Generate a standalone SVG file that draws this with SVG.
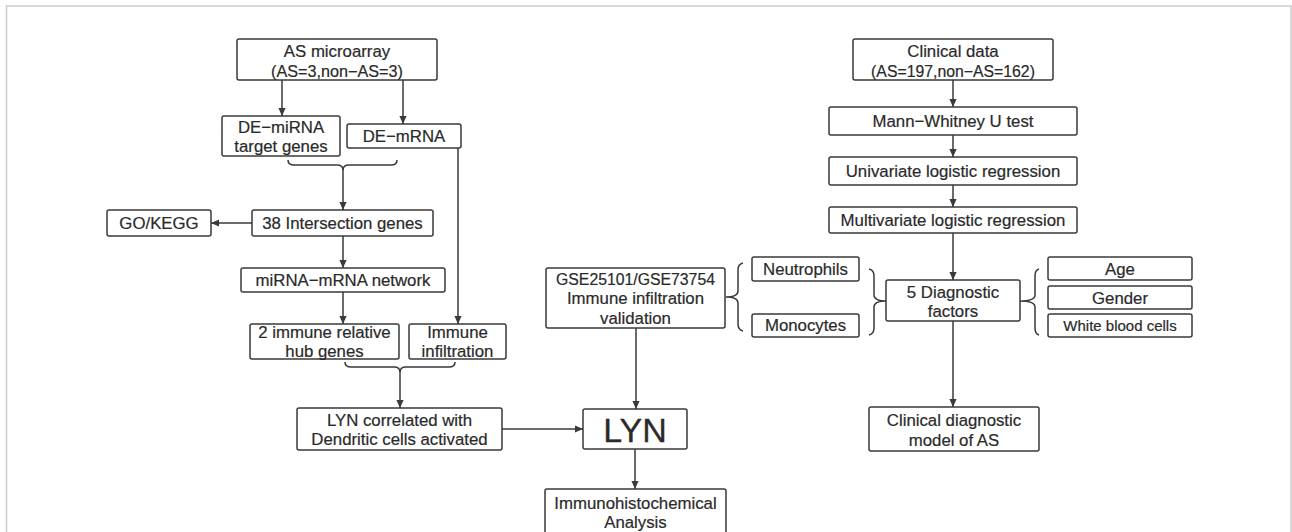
<svg xmlns="http://www.w3.org/2000/svg" width="1292" height="532" viewBox="0 0 1292 532">
<style>
.b{fill:#fff;stroke:#3a3a3a;stroke-width:1.5}
.t{font-family:"Liberation Sans",Arial,sans-serif;font-size:16.8px;fill:#2a2a2a;stroke:#2a2a2a;stroke-width:0.2;text-anchor:middle}
.n{font-size:15.8px}
.m{font-size:16.2px}
.s{font-size:15px}
.big{font-size:34px;stroke-width:0.3}
.c{fill:none;stroke:#3a3a3a;stroke-width:1.5}
</style>
<defs>
<marker id="a" viewBox="0 0 10 10" refX="10" refY="5" markerWidth="8" markerHeight="8" markerUnits="userSpaceOnUse" orient="auto">
<path d="M0,0.5 L10,5 L0,9.5 z" fill="#3a3a3a"/>
</marker>
</defs>
<rect x="6.5" y="6" width="1284.5" height="600" fill="none" stroke="#cccccc" stroke-width="1.5"/>
<g id="connectors">
<path class="c" d="M282,80 V116" marker-end="url(#a)"/>
<path class="c" d="M403,80 V124" marker-end="url(#a)"/>
<path class="c" d="M288,160 Q288,165 294,165 L337,165 Q343,165 343,170 Q343,165 349,165 L391,165 Q397,165 397,160"/>
<path class="c" d="M343,169 V210" marker-end="url(#a)"/>
<path class="c" d="M252,223 H211" marker-end="url(#a)"/>
<path class="c" d="M343,236 V268" marker-end="url(#a)"/>
<path class="c" d="M343,292 V324" marker-end="url(#a)"/>
<path class="c" d="M458,148 V324" marker-end="url(#a)"/>
<path class="c" d="M345,362 Q345,367 351,367 L394,367 Q400,367 400,372 Q400,367 406,367 L449,367 Q455,367 455,362"/>
<path class="c" d="M400,371 V408" marker-end="url(#a)"/>
<path class="c" d="M502,429 H583" marker-end="url(#a)"/>
<path class="c" d="M636,328 V409" marker-end="url(#a)"/>
<path class="c" d="M635,449 V489" marker-end="url(#a)"/>
<path class="c" d="M743,263 Q738,264 738,270 L738,291 Q738,297 726,297 Q738,297 738,303 L738,324 Q738,330 743,331"/>
<path class="c" d="M869,269 Q874,270 874,276 L874,295 Q874,301 886,301 Q874,301 874,307 L874,328 Q874,334 869,335"/>
<path class="c" d="M1039,269 Q1035,270 1035,276 L1035,295 Q1035,301 1020,301 Q1035,301 1035,307 L1035,328 Q1035,334 1039,335"/>
<path class="c" d="M953,80 V107" marker-end="url(#a)"/>
<path class="c" d="M953,135 V157" marker-end="url(#a)"/>
<path class="c" d="M953,185 V207" marker-end="url(#a)"/>
<path class="c" d="M953,233 V280" marker-end="url(#a)"/>
<path class="c" d="M953,321 V407" marker-end="url(#a)"/>
</g>
<g id="as-microarray"><rect class="b" x="237" y="39" width="200" height="41" rx="2"/><text class="t" x="337" y="57">AS microarray</text><text class="t m" x="337" y="77">(AS=3,non−AS=3)</text></g>
<g id="de-mirna"><rect class="b" x="222" y="116" width="118" height="40" rx="2"/><text class="t" x="281" y="133">DE−miRNA</text><text class="t" x="281" y="152">target genes</text></g>
<g id="de-mrna"><rect class="b" x="347" y="124" width="114" height="24" rx="2"/><text class="t" x="404" y="142">DE−mRNA</text></g>
<g id="intersection"><rect class="b" x="252" y="210" width="181" height="26" rx="2"/><text class="t" x="342.5" y="229">38 Intersection genes</text></g>
<g id="go-kegg"><rect class="b" x="107" y="210" width="104" height="26" rx="2"/><text class="t" x="159" y="229">GO/KEGG</text></g>
<g id="network"><rect class="b" x="241" y="268" width="204" height="24" rx="2"/><text class="t" x="343" y="286">miRNA−mRNA network</text></g>
<g id="hub-genes"><rect class="b" x="250" y="324" width="149" height="35" rx="2"/><text class="t" x="324.5" y="338">2 immune relative</text><text class="t" x="324.5" y="357">hub genes</text></g>
<g id="immune-infiltration"><rect class="b" x="409" y="324" width="97" height="35" rx="2"/><text class="t" x="457.5" y="338">Immune</text><text class="t" x="457.5" y="357">infiltration</text></g>
<g id="lyn-correlated"><rect class="b" x="297" y="408" width="205" height="42" rx="2"/><text class="t" x="399.5" y="426">LYN correlated with</text><text class="t" x="399.5" y="445">Dendritic cells activated</text></g>
<g id="lyn"><rect class="b" x="583" y="409" width="104" height="40" rx="2"/><text class="t big" x="635" y="442">LYN</text></g>
<g id="ihc"><rect class="b" x="545" y="489" width="181" height="60" rx="2"/><text class="t" x="635.5" y="509">Immunohistochemical</text><text class="t" x="635.5" y="528">Analysis</text></g>
<g id="gse"><rect class="b" x="546" y="268" width="179" height="60" rx="2"/><text class="t n" x="635.5" y="285">GSE25101/GSE73754</text><text class="t" x="635.5" y="304">Immune infiltration</text><text class="t" x="635.5" y="324">validation</text></g>
<g id="neutrophils"><rect class="b" x="752" y="257" width="107" height="24" rx="2"/><text class="t" x="805.5" y="275">Neutrophils</text></g>
<g id="monocytes"><rect class="b" x="752" y="314" width="107" height="23" rx="2"/><text class="t" x="805.5" y="331">Monocytes</text></g>
<g id="diagnostic-factors"><rect class="b" x="886" y="280" width="134" height="41" rx="2"/><text class="t" x="953" y="298">5 Diagnostic</text><text class="t" x="953" y="317">factors</text></g>
<g id="age"><rect class="b" x="1048" y="257" width="144" height="23" rx="2"/><text class="t" x="1120" y="274.5">Age</text></g>
<g id="gender"><rect class="b" x="1048" y="286" width="144" height="23" rx="2"/><text class="t" x="1120" y="303.5">Gender</text></g>
<g id="wbc"><rect class="b" x="1048" y="314" width="144" height="23" rx="2"/><text class="t s" x="1120" y="331">White blood cells</text></g>
<g id="clinical-data"><rect class="b" x="853" y="39" width="200" height="41" rx="2"/><text class="t" x="953" y="57">Clinical data</text><text class="t n" x="953" y="77">(AS=197,non−AS=162)</text></g>
<g id="mann-whitney"><rect class="b" x="829" y="107" width="248" height="28" rx="2"/><text class="t" x="953" y="127">Mann−Whitney U test</text></g>
<g id="univariate"><rect class="b" x="829" y="157" width="248" height="28" rx="2"/><text class="t" x="953" y="177">Univariate logistic regression</text></g>
<g id="multivariate"><rect class="b" x="829" y="207" width="248" height="26" rx="2"/><text class="t" x="953" y="226">Multivariate logistic regression</text></g>
<g id="clinical-model"><rect class="b" x="869" y="407" width="170" height="44" rx="2"/><text class="t" x="954" y="426">Clinical diagnostic</text><text class="t" x="954" y="446">model of AS</text></g>
</svg>
